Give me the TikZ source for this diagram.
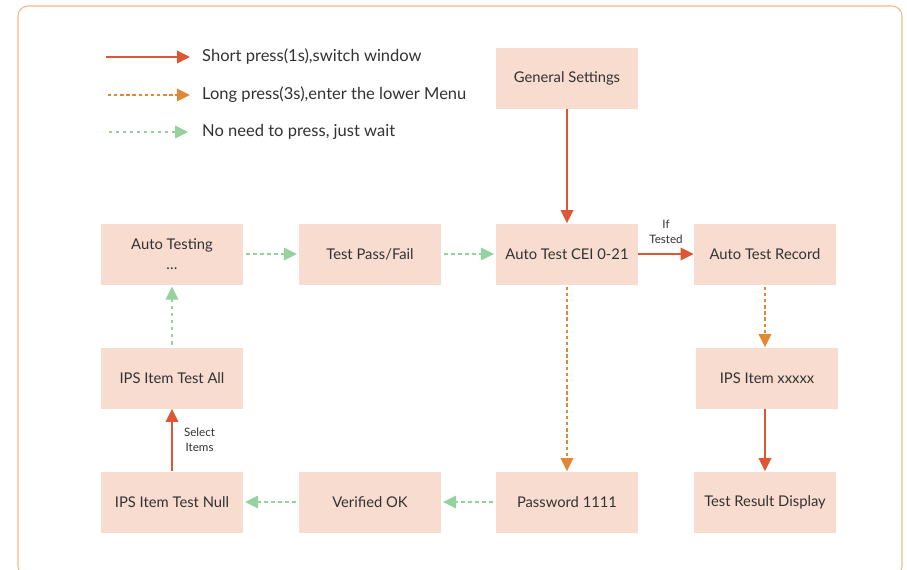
\documentclass[tikz,border=0pt]{standalone}
\usepackage{fontspec}
\setmainfont{Lato}
\usepackage{xcolor}
\usetikzlibrary{arrows.meta, positioning}
\definecolor{boxfill}{RGB}{248,220,208}
\definecolor{shortcol}{RGB}{222,86,52}
\definecolor{longcol}{RGB}{224,136,52}
\definecolor{waitcol}{RGB}{150,210,160}
\definecolor{framecol}{RGB}{250,180,140}
\definecolor{txt}{RGB}{50,50,50}

\begin{document}
\begin{tikzpicture}[
  x=0.2mm, y=-0.2mm,
  every node/.style={font=\fontsize{8.4}{10}\selectfont, text=txt},
  menubox/.style={rectangle, fill=boxfill, minimum width=2.84cm,
                  minimum height=1.22cm, align=center, inner sep=0pt},
  note/.style={align=center, font=\fontsize{6.6}{8.6}\selectfont},
  legend/.style={anchor=west, font=\fontsize{9.4}{11}\selectfont},
  shortarr/.style={-{Triangle[length=2.6mm, width=2.5mm]}, shortcol, line width=1.1pt},
  longarr/.style={-{Triangle[length=2.6mm, width=2.5mm]}, longcol, line width=0.85pt,
                  dash pattern=on 2pt off 1.5pt, shorten <=1pt},
  waitarr/.style={-{Triangle[length=2.6mm, width=2.5mm]}, waitcol, line width=0.85pt,
                  dash pattern=on 2pt off 2pt, shorten <=1.5pt, shorten >=1pt},
]
  \useasboundingbox (0,0) rectangle (907,569);
  % outer frame
  \draw[framecol, line width=0.6pt, rounded corners=5.7pt] (18,6) rectangle (902,576);

  % Legend
  \coordinate (l1a) at (106,57);  \coordinate (l1b) at (190,57);
  \coordinate (l2a) at (106,95);  \coordinate (l2b) at (190,95);
  \coordinate (l3a) at (106,132); \coordinate (l3b) at (190,132);
  \draw[shortarr] (l1a) -- (l1b);
  \draw[longarr] (l2a) -- (l2b);
  \draw[waitarr] (l3a) -- (l3b);
  \node[legend] (t1) at (196,57) {Short press(1s),switch window};
  \node[legend] (t2) at (196,95) {Long press(3s),enter the lower Menu};
  \node[legend] (t3) at (196,132) {No need to press, just wait};

  % Menu boxes
  \node[menubox] (general) at (567,78) {General Settings};
  \node[menubox] (autotesting) at (172,254) {Auto Testing\\[1pt]\dots};
  \node[menubox] (passfail) at (370,254) {Test Pass/Fail};
  \node[menubox] (cei) at (567,254) {Auto Test CEI 0-21};
  \node[menubox] (record) at (765,254) {Auto Test Record};
  \node[menubox] (testall) at (172,378) {IPS Item Test All};
  \node[menubox] (xxxxx) at (767,378) {IPS Item xxxxx};
  \node[menubox] (testnull) at (172,502) {IPS Item Test Null};
  \node[menubox] (verified) at (370,502) {Verified OK};
  \node[menubox] (password) at (567,502) {Password 1111};
  \node[menubox] (result) at (765,502) {Test Result Display};

  % Short press
  \draw[shortarr] (general) -- (cei);
  \draw[shortarr] (cei) -- node[note, above=2pt] {If\\Tested} (record);
  \draw[shortarr] (xxxxx.south -| record) -- (result);
  \draw[shortarr] (testnull) -- node[note, right=3pt] {Select\\Items} (testall);

  % Long press
  \draw[longarr] (record) -- (record |- xxxxx.north);
  \draw[longarr] (cei) -- (password);

  % Just wait
  \draw[waitarr] (password) -- (verified);
  \draw[waitarr] (verified) -- (testnull);
  \draw[waitarr] (testall) -- (autotesting);
  \draw[waitarr] (autotesting) -- (passfail);
  \draw[waitarr] (passfail) -- (cei);
\end{tikzpicture}
\end{document}
